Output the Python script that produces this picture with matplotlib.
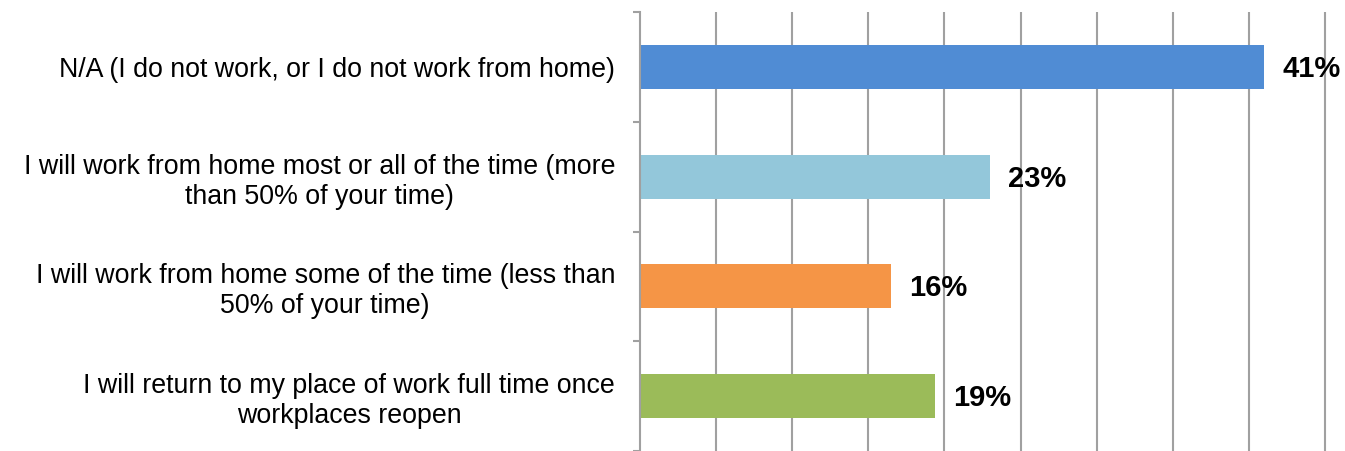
import matplotlib
matplotlib.use("Agg")
import matplotlib.pyplot as plt
import numpy as np

plt.rcParams["font.family"] = ["Liberation Sans", "DejaVu Sans"]

CATEGORIES = [
    "N/A (I do not work, or I do not work from home)",
    "I will work from home most or all of the time (more\nthan 50% of your time)",
    "I will work from home some of the time (less than\n50% of your time)",
    "I will return to my place of work full time once\nworkplaces reopen",
]
VALUES = [41.0, 23.0, 16.5, 19.4]
LABELS = ["41%", "23%", "16%", "19%"]
COLORS = ["#508cd4", "#93c7da", "#f59546", "#9bbb59"]
GRID_TICKS = list(range(5, 50, 5))

GRAY = "#a0a0a0"

fig = plt.figure(figsize=(13.45, 4.51), dpi=100)
ax = fig.add_axes([640 / 1345, 0.0, (45.2 * 15.22) / 1345, 1 - 12 / 451])

y = np.arange(len(CATEGORIES))
ax.barh(y, VALUES, height=0.4, color=COLORS, zorder=2)

for yi, v, lab in zip(y, VALUES, LABELS):
    ax.annotate(lab, (v, yi), xytext=(13, -1.5), textcoords="offset points",
                ha="left", va="center", fontsize=21, fontweight="bold",
                color="black", zorder=3)

ax.set_xlim(0, 45.2)
ax.set_ylim(3.5, -0.5)

ax.set_xticks(GRID_TICKS)
ax.set_xticklabels([])
ax.tick_params(axis="x", length=0)
ax.grid(axis="x", color=GRAY, linewidth=1.5, zorder=1)
ax.grid(axis="y", visible=False)

ax.set_yticks(y)
ax.set_yticklabels(CATEGORIES, fontsize=19.3, multialignment="center",
                   linespacing=1.2)
ax.tick_params(axis="y", which="major", length=0, pad=18)
ax.set_yticks(np.arange(-0.5, 4.0, 1.0), minor=True)
ax.tick_params(axis="y", which="minor", length=5, width=1.5, color=GRAY,
               direction="out")

for side in ["top", "right", "bottom"]:
    ax.spines[side].set_visible(False)
ax.spines["left"].set_color(GRAY)
ax.spines["left"].set_linewidth(1.5)

fig.savefig("out.png", dpi=100)
